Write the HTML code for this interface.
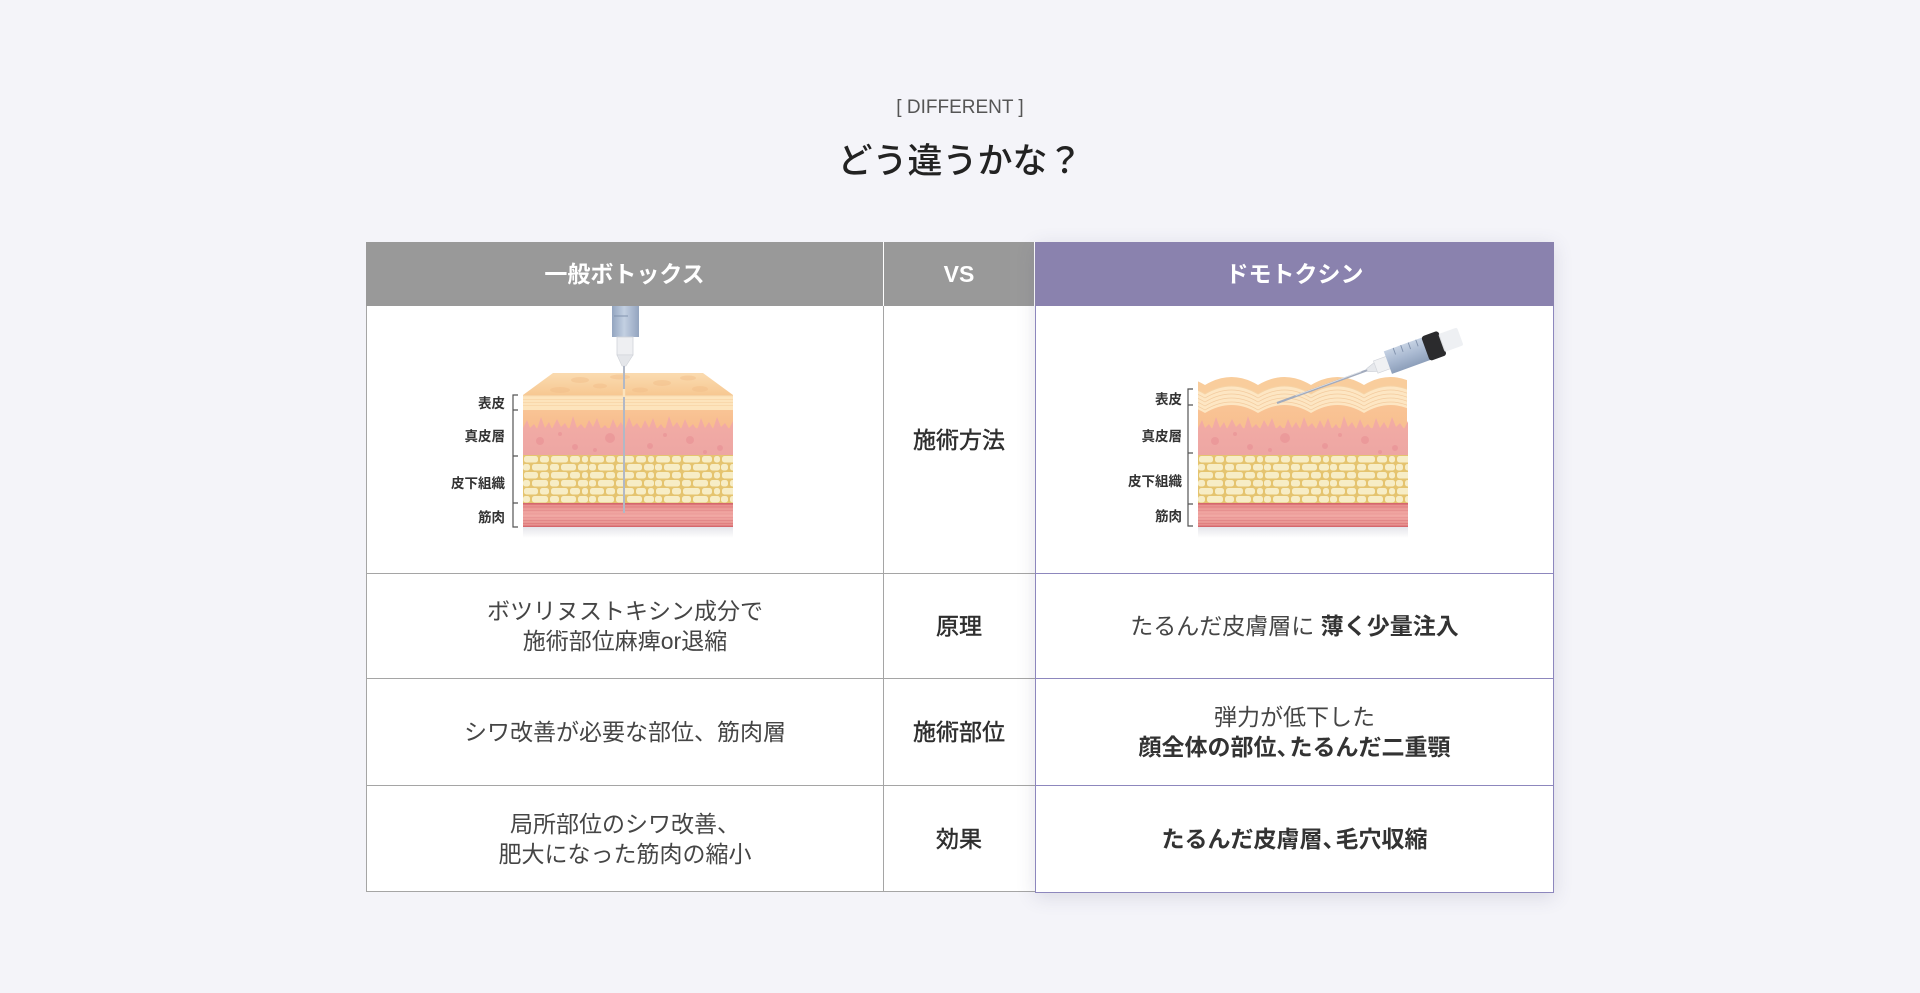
<!DOCTYPE html>
<html><head><meta charset="utf-8">
<style>
html,body{margin:0;padding:0}
body{width:1920px;height:993px;background:#f4f4f9;position:relative;overflow:hidden;font-family:"Liberation Sans","Noto Sans CJK JP",sans-serif}
.a{position:absolute}
.c{position:absolute;display:flex;align-items:center;justify-content:center;text-align:center;font-size:23px;line-height:30px;color:#454545}
.m{color:#2e2e2e;font-weight:400;-webkit-text-stroke:0.45px #2e2e2e}
.h{color:#fff;font-weight:700;font-size:23px}
b{font-weight:700;color:#333}
.gl{position:absolute;background:#a5a5a5}
.pl{position:absolute;background:#8d87bd}
</style></head><body>

<div class="a" style="left:0;top:96px;width:1920px;height:24px;line-height:24px;text-align:center;font-size:19px;color:#555">[ DIFFERENT ]</div>
<div class="a" style="left:0;top:142px;width:1920px;height:40px;line-height:40px;text-align:center;font-size:35px;font-weight:500;color:#222">どう違うかな？</div>

<!-- table base -->
<div class="a" style="left:366px;top:242px;width:669px;height:64px;background:#fff"></div>
<div class="a" style="left:366px;top:242px;width:517px;height:64px;background:#999"></div>
<div class="a" style="left:884px;top:242px;width:150px;height:64px;background:#999"></div>
<div class="a" style="left:366px;top:306px;width:669px;height:586px;background:#fff"></div>
<div class="gl" style="left:366px;top:306px;width:1px;height:586px"></div>
<div class="gl" style="left:366px;top:891px;width:669px;height:1px"></div>
<div class="gl" style="left:883px;top:306px;width:1px;height:586px"></div>
<div class="gl" style="left:366px;top:573px;width:669px;height:1px"></div>
<div class="gl" style="left:366px;top:678px;width:669px;height:1px"></div>
<div class="gl" style="left:366px;top:785px;width:669px;height:1px"></div>

<!-- purple column -->
<div class="a" style="left:1035px;top:242px;width:519px;height:651px;background:#fff;box-sizing:border-box;border:1px solid #8d87bd;border-top:none;box-shadow:0 4px 18px rgba(70,70,110,0.15)"></div>
<div class="a" style="left:1035px;top:242px;width:519px;height:64px;background:#8a82ae"></div>
<div class="pl" style="left:1035px;top:573px;width:519px;height:1px"></div>
<div class="pl" style="left:1035px;top:678px;width:519px;height:1px"></div>
<div class="pl" style="left:1035px;top:785px;width:519px;height:1px"></div>

<!-- header text -->
<div class="c h" style="left:366px;top:242px;width:517px;height:64px">一般ボトックス</div>
<div class="c h" style="left:884px;top:242px;width:150px;height:64px;font-weight:700">VS</div>
<div class="c h" style="left:1035px;top:242px;width:519px;height:64px">ドモトクシン</div>

<!-- cells -->
<div class="c m" style="left:884px;top:306px;width:150px;height:267px">施術方法</div>

<div class="c" style="left:367px;top:574px;width:516px;height:104px">ボツリヌストキシン成分で<br>施術部位麻痺or退縮</div>
<div class="c m" style="left:884px;top:574px;width:150px;height:104px">原理</div>
<div class="c" style="left:1036px;top:574px;width:517px;height:104px"><span>たるんだ皮膚層に <b>薄く少量注入</b></span></div>

<div class="c" style="left:367px;top:679px;width:516px;height:106px">シワ改善が必要な部位、筋肉層</div>
<div class="c m" style="left:884px;top:679px;width:150px;height:106px">施術部位</div>
<div class="c" style="left:1036px;top:679px;width:517px;height:106px"><span>弾力が低下した<br><b>顔全体の部位<span style="margin-right:-10px">、</span>たるんだ二重顎</b></span></div>

<div class="c" style="left:367px;top:786px;width:516px;height:106px">局所部位のシワ改善、<br>肥大になった筋肉の縮小</div>
<div class="c m" style="left:884px;top:786px;width:150px;height:106px">効果</div>
<div class="c" style="left:1036px;top:786px;width:517px;height:106px"><b>たるんだ皮膚層<span style="margin-right:-10px">、</span>毛穴収縮</b></div>

<!-- illustrations -->
<svg class="a" style="left:0;top:0" width="1920" height="993" viewBox="0 0 1920 993">
<defs>
 <pattern id="fat" patternUnits="userSpaceOnUse" x="523" y="455" width="66" height="16">
  <rect x="0" y="0" width="66" height="16" fill="#e5c46f"/>
  <g fill="#f7edc6">
   <rect x="1" y="1" width="14" height="6.5" rx="2.5"/>
   <rect x="17" y="1" width="9" height="6.5" rx="2.5"/>
   <rect x="28" y="1" width="17" height="6.5" rx="2.5"/>
   <rect x="47" y="1" width="10" height="6.5" rx="2.5"/>
   <rect x="59" y="1" width="6" height="6.5" rx="2.5"/>
   <rect x="0" y="9" width="7" height="6.5" rx="2.5"/>
   <rect x="9" y="9" width="16" height="6.5" rx="2.5"/>
   <rect x="27" y="9" width="9" height="6.5" rx="2.5"/>
   <rect x="38" y="9" width="15" height="6.5" rx="2.5"/>
   <rect x="55" y="9" width="10" height="6.5" rx="2.5"/>
  </g>
 </pattern>
 <linearGradient id="pinkG" x1="0" y1="0" x2="0" y2="1"><stop offset="0" stop-color="#f3aca5"/><stop offset="1" stop-color="#eda6a3"/></linearGradient>
 <linearGradient id="musG" x1="0" y1="0" x2="0" y2="1"><stop offset="0" stop-color="#e58c8a"/><stop offset="0.5" stop-color="#f2aaa5"/><stop offset="1" stop-color="#e48b8a"/></linearGradient>
 <linearGradient id="shG" x1="0" y1="0" x2="0" y2="1"><stop offset="0" stop-color="#8a8aa0" stop-opacity="0.22"/><stop offset="1" stop-color="#8a8aa0" stop-opacity="0"/></linearGradient>
 <linearGradient id="topG" x1="0" y1="0" x2="0" y2="1"><stop offset="0" stop-color="#fadbb0"/><stop offset="1" stop-color="#f7c892"/></linearGradient>
 <linearGradient id="orG" x1="0" y1="0" x2="0" y2="1"><stop offset="0" stop-color="#f9c495"/><stop offset="1" stop-color="#f6b081"/></linearGradient>
 <linearGradient id="barV" x1="0" y1="0" x2="1" y2="0"><stop offset="0" stop-color="#93a5c0"/><stop offset="0.45" stop-color="#c3d0e2"/><stop offset="1" stop-color="#93a4bf"/></linearGradient>
 <linearGradient id="barR" x1="0" y1="0" x2="0" y2="1"><stop offset="0" stop-color="#c6d2e3"/><stop offset="0.5" stop-color="#a9b9d1"/><stop offset="1" stop-color="#8d9fba"/></linearGradient>
 <g id="layers">
  <rect x="523" y="428" width="210" height="28" fill="url(#pinkG)"/>
  <path d="M523,456 L523,428 L527,420 L530,428 L534,424 L537,429 L541,417 L545,428 L549,422 L552,429 L557,419 L561,427 L565,423 L569,430 L573,416 L577,428 L581,424 L585,429 L589,420 L593,427 L597,418 L601,429 L605,425 L609,430 L613,419 L617,428 L621,422 L625,429 L629,417 L633,427 L637,423 L641,429 L645,420 L649,428 L653,418 L657,429 L661,424 L665,430 L669,416 L673,427 L677,422 L681,429 L685,419 L689,428 L693,424 L697,430 L701,418 L705,428 L709,422 L713,429 L717,417 L721,427 L725,423 L729,429 L733,421 L733,456 Z" fill="url(#pinkG)"/>
  <g fill="#e47f8a" opacity="0.35">
   <circle cx="540" cy="441" r="4"/><circle cx="575" cy="447" r="3"/><circle cx="610" cy="438" r="5"/>
   <circle cx="650" cy="446" r="3"/><circle cx="690" cy="440" r="4"/><circle cx="720" cy="448" r="3"/>
   <circle cx="595" cy="450" r="2"/><circle cx="665" cy="435" r="2"/><circle cx="560" cy="434" r="2"/><circle cx="705" cy="452" r="2"/>
  </g>
  <rect x="523" y="455" width="210" height="48" fill="url(#fat)"/>
  <rect x="523" y="503" width="210" height="24" fill="url(#musG)"/>
  <g stroke="#d5676d" fill="none">
   <line x1="523" y1="503.8" x2="733" y2="503.8" stroke-width="1.6"/>
   <line x1="523" y1="507" x2="733" y2="507" stroke-width="0.7" opacity="0.6"/>
   <line x1="523" y1="510.5" x2="733" y2="510.5" stroke-width="0.6" opacity="0.5"/>
   <line x1="523" y1="514" x2="733" y2="514" stroke-width="0.6" opacity="0.4"/>
   <line x1="523" y1="517.5" x2="733" y2="517.5" stroke-width="0.6" opacity="0.4"/>
   <line x1="523" y1="520.5" x2="733" y2="520.5" stroke-width="0.7" opacity="0.5"/>
   <line x1="523" y1="523.5" x2="733" y2="523.5" stroke-width="0.8" opacity="0.6"/>
   <line x1="523" y1="526.3" x2="733" y2="526.3" stroke-width="1.4"/>
  </g>
  <rect x="523" y="527" width="210" height="11" fill="url(#shG)"/>
 </g>
 <path id="wv" d="M1152,385 Q1178.5,369 1205,385 Q1231.5,369 1258,385 Q1284.5,369 1311,385 Q1337.5,369 1364,385 Q1390.5,369 1417,385 Q1443.5,369 1470,385 L1470,470 L1152,470 Z"/>
 <path id="wl" d="M1152,385 Q1178.5,369 1205,385 Q1231.5,369 1258,385 Q1284.5,369 1311,385 Q1337.5,369 1364,385 Q1390.5,369 1417,385 Q1443.5,369 1470,385" fill="none"/>
 <clipPath id="rc"><rect x="1198" y="360" width="209" height="110"/></clipPath>
</defs>

<!-- LEFT skin -->
<polygon points="553,373 703,373 733,395 523,395" fill="url(#topG)"/>
<g fill="#f2bd88" opacity="0.45">
 <ellipse cx="580" cy="380" rx="9" ry="3"/><ellipse cx="620" cy="377" rx="10" ry="2.5"/><ellipse cx="662" cy="383" rx="9" ry="3"/>
 <ellipse cx="700" cy="389" rx="8" ry="3"/><ellipse cx="560" cy="390" rx="10" ry="3"/><ellipse cx="640" cy="390" rx="8" ry="2.5"/>
 <ellipse cx="688" cy="378" rx="8" ry="2.5"/><ellipse cx="600" cy="386" rx="7" ry="2.5"/>
</g>
<rect x="523" y="395" width="210" height="15" fill="#fde4bc"/>
<g stroke="#f3c896" fill="none" stroke-width="0.8">
 <line x1="523" y1="395.6" x2="733" y2="395.6" stroke="#f6d3a6" stroke-width="1.2"/>
 <line x1="523" y1="399.5" x2="733" y2="399.5" opacity="0.6"/>
 <line x1="523" y1="402.5" x2="733" y2="402.5" opacity="0.6"/>
 <line x1="523" y1="405.5" x2="733" y2="405.5" opacity="0.6"/>
</g>
<rect x="523" y="410" width="210" height="46" fill="url(#orG)"/>
<use href="#layers"/>

<!-- left syringe -->
<rect x="612" y="306" width="27" height="31" fill="url(#barV)"/>
<line x1="614" y1="316" x2="628" y2="316" stroke="#8193ae" stroke-width="1"/>
<rect x="617" y="337" width="16" height="18" fill="#eeeff2" stroke="#d0d3d9" stroke-width="0.8"/>
<polygon points="617,355 633,355 626,366 622,366" fill="#e4e6ea" stroke="#cfd2d8" stroke-width="0.6"/>
<line x1="624" y1="366" x2="624" y2="513" stroke="#b1b8c6" stroke-width="2"/>
<line x1="624" y1="389" x2="624" y2="397" stroke="#fbe3bd" stroke-width="2.4"/>

<!-- left labels -->
<g font-family="Liberation Sans, Noto Sans CJK JP, sans-serif" font-size="13.5" font-weight="700" fill="#333" text-anchor="end">
 <text x="505" y="408">表皮</text>
 <text x="505" y="441">真皮層</text>
 <text x="505" y="488">皮下組織</text>
 <text x="505" y="522">筋肉</text>
</g>
<path d="M518,395 H513 V527 H518 M513,410 H518 M513,456 H518 M513,503 H518" fill="none" stroke="#555" stroke-width="1.2"/>

<!-- RIGHT skin -->
<g clip-path="url(#rc)">
 <use href="#wv" fill="#f9cd9c"/>
 <use href="#wv" y="9" fill="#fde6c3"/>
 <use href="#wl" y="9" stroke="#f6d2a4" stroke-width="1"/>
 <use href="#wl" y="13" stroke="#f3cb9e" stroke-width="0.7"/>
 <use href="#wl" y="17" stroke="#f3cb9e" stroke-width="0.7"/>
 <use href="#wl" y="21" stroke="#f3cb9e" stroke-width="0.7"/>
 <use href="#wl" y="25" stroke="#f3cb9e" stroke-width="0.7"/>
 <use href="#wv" y="28" fill="url(#orG)"/>
</g>
<use href="#layers" transform="translate(675,0)"/>

<!-- right syringe -->
<g transform="translate(1277,403) rotate(-20)">
 <line x1="0" y1="0" x2="98" y2="0" stroke="#a2abbd" stroke-width="2.2"/>
 <line x1="20" y1="-0.6" x2="90" y2="-0.6" stroke="#e9edf3" stroke-width="0.6"/>
 <polygon points="96,-1.6 106,-5 106,5 96,1.6" fill="#e6e8ec" stroke="#ccd0d7" stroke-width="0.6"/>
 <rect x="105" y="-6.5" width="14" height="13" fill="#f0f1f3" stroke="#d0d3d9" stroke-width="0.6"/>
 <rect x="118" y="-12" width="44" height="24" fill="url(#barR)"/>
 <g stroke="#7f90ab" stroke-width="0.9">
  <line x1="128" y1="-12" x2="128" y2="-5"/><line x1="136" y1="-12" x2="136" y2="-5"/>
  <line x1="144" y1="-12" x2="144" y2="-5"/><line x1="152" y1="-12" x2="152" y2="-5"/>
 </g>
 <rect x="158" y="-13" width="18" height="26" rx="3" fill="#2b2b2d"/>
 <rect x="175" y="-9.5" width="20" height="19" rx="2" fill="#eceef2" opacity="0.9"/>
</g>

<!-- right labels -->
<g font-family="Liberation Sans, Noto Sans CJK JP, sans-serif" font-size="13.5" font-weight="700" fill="#333" text-anchor="end">
 <text x="1182" y="404">表皮</text>
 <text x="1182" y="441">真皮層</text>
 <text x="1182" y="486">皮下組織</text>
 <text x="1182" y="521">筋肉</text>
</g>
<path d="M1193,389 H1188 V526 H1193 M1188,405 H1193 M1188,453 H1193 M1188,504 H1193" fill="none" stroke="#555" stroke-width="1.2"/>
</svg>

</body></html>
